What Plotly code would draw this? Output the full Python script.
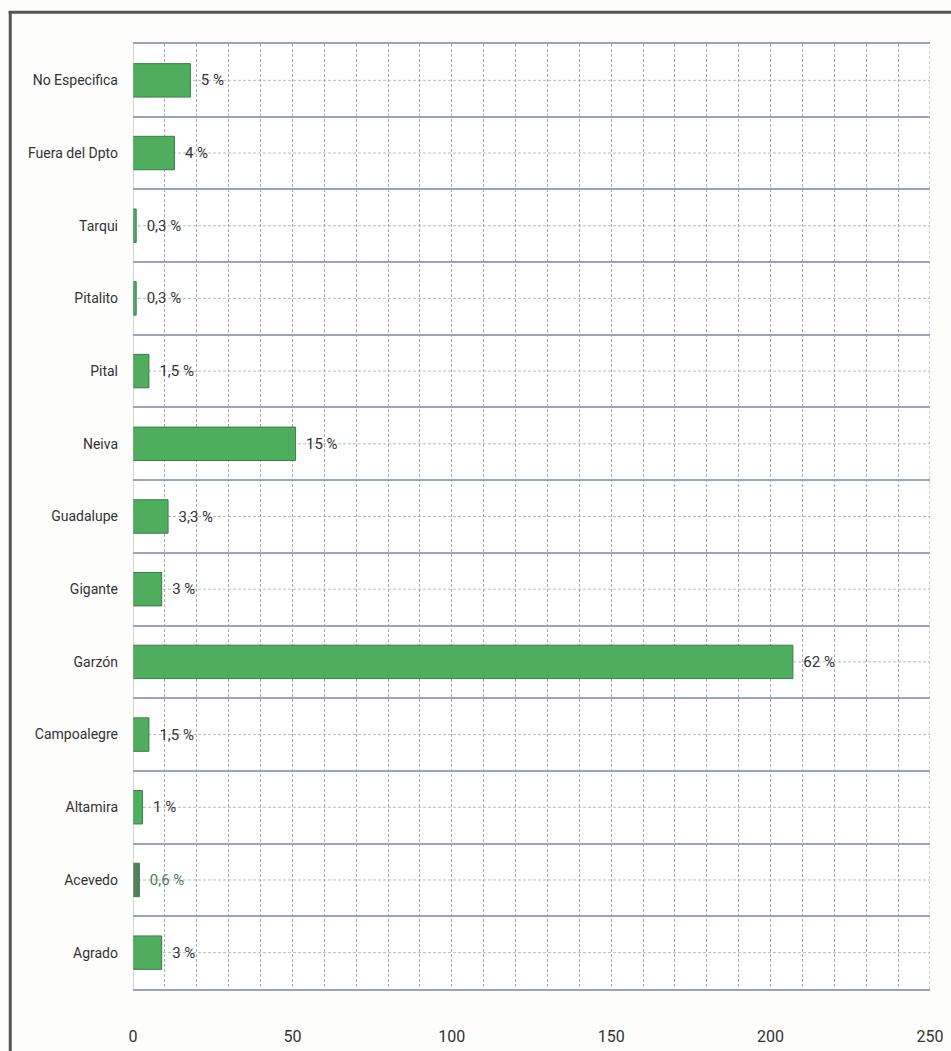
import plotly.graph_objects as go

categories = ["Agrado", "Acevedo", "Altamira", "Campoalegre", "Garzón", "Gigante",
              "Guadalupe", "Neiva", "Pital", "Pitalito", "Tarqui", "Fuera del Dpto",
              "No Especifica"]
values = [9, 2, 3, 5, 207, 9, 11, 51, 5, 1, 1, 13, 18]
pct_labels = ["3 %", "0,6 %", "1 %", "1,5 %", "62 %", "3 %", "3,3 %", "15 %",
              "1,5 %", "0,3 %", "0,3 %", "4 %", "5 %"]
x_ticks = [0, 50, 100, 150, 200, 250]

FONT = "Roboto, Liberation Sans Narrow, sans-serif"

bar_colors = ["#4fad5e"] * len(categories)
bar_colors[1] = "#567d5e"
text_colors = ["#333333"] * len(categories)
text_colors[1] = "#4d7a55"

fig = go.Figure()
fig.add_trace(go.Bar(
    y=categories, x=values, orientation="h",
    width=0.46,
    marker=dict(color=bar_colors, line=dict(color="#3b7d48", width=1)),
    text=pct_labels, texttemplate="  %{text}", textposition="outside",
    textfont=dict(family=FONT, size=15, color=text_colors),
    cliponaxis=False,
))

shapes = []
# dashed lines through category centers
for i in range(len(categories)):
    shapes.append(dict(type="line", xref="x", yref="y", x0=0, x1=250, y0=i, y1=i,
                       line=dict(color="#b3bccd", width=1, dash="3px,2px"), layer="below"))
# outer frame (top)
shapes.append(dict(type="line", xref="paper", yref="paper", x0=-0.156, x1=1.03,
                   y0=1.0335, y1=1.0335, line=dict(color="#555555", width=3)))
# outer frame (left)
shapes.append(dict(type="line", xref="paper", yref="paper", x0=-0.154, x1=-0.154,
                   y0=-0.07, y1=1.035, line=dict(color="#555555", width=3)))
# plot box edges
shapes.append(dict(type="line", xref="x", yref="paper", x0=250, x1=250, y0=0, y1=1,
                   line=dict(color="#a8a8a8", width=1, dash="3px,2px")))
shapes.append(dict(type="line", xref="x", yref="paper", x0=0, x1=0, y0=0, y1=1,
                   line=dict(color="#a8a8a8", width=1)))

fig.update_layout(
    width=951, height=1051,
    margin=dict(l=133, r=21, t=44, b=62, autoexpand=False),
    paper_bgcolor="#fdfdfb", plot_bgcolor="#ffffff",
    showlegend=False,
    font=dict(family=FONT, size=15, color="#333333"),
    shapes=shapes,
    xaxis=dict(range=[0, 250], tickvals=x_ticks, ticktext=[str(t) for t in x_ticks],
               showgrid=False, zeroline=False, automargin=False,
               showline=True, linecolor="#97a3c0", linewidth=1.5, mirror=True,
               ticklabelstandoff=32,
               minor=dict(dtick=10, showgrid=True, gridcolor="#ababab",
                          griddash="3px,2px", gridwidth=1),
               tickfont=dict(family=FONT, size=16, color="#333333")),
    yaxis=dict(categoryorder="array", categoryarray=categories, automargin=False,
               tickson="boundaries", showgrid=True, gridcolor="#97a3c0", gridwidth=1.5,
               showline=False, zeroline=False, ticks="", ticklabelstandoff=14,
               tickfont=dict(family=FONT, size=14, color="#333333")),
)

fig.write_html("out.html", post_script="document.body.style.margin='0';",
               config={"displayModeBar": False})
